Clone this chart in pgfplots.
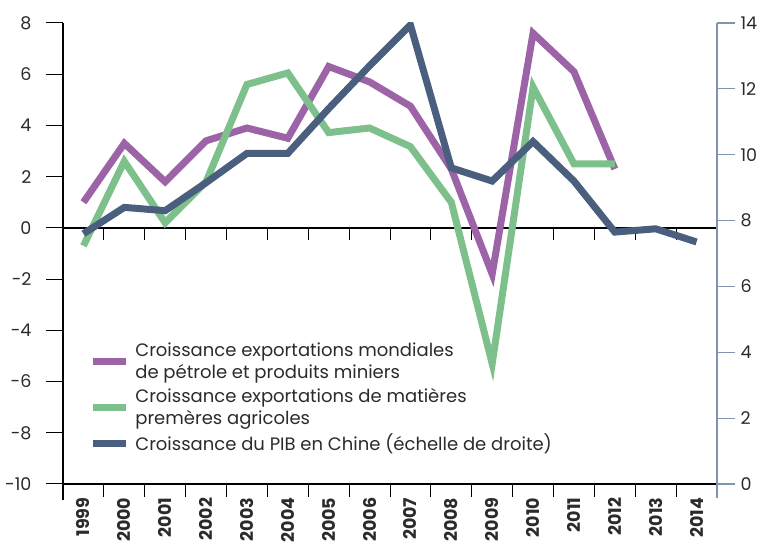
\documentclass[border=0pt]{standalone}
\usepackage{fontspec}
\setmainfont{Poppins}
\usepackage{pgfplots}
\pgfplotsset{compat=1.18}
\definecolor{cpurple}{HTML}{9C63A6}
\definecolor{cgreen}{HTML}{7DC08C}
\definecolor{cblue}{HTML}{4A5F7E}
\definecolor{caxis}{HTML}{8093AF}
\definecolor{ctext}{HTML}{2B2B2B}
\begin{document}
\begin{tikzpicture}[font=\fontsize{17.5}{21}\selectfont, text=ctext]
\path[use as bounding box, clip] (-63pt,-61pt) rectangle (697pt,484pt);
% zero line with its ticks
\begin{axis}[at={(0,256.11pt)}, anchor=south west, scale only axis,
  width=654pt, height=204.89pt,
  xmin=-0.5, xmax=15.5, ymin=0, ymax=8,
  axis x line*=bottom, axis y line=none,
  xtick={-0.5,0.5,...,15.5}, xticklabels={},
  tick align=outside, major tick length=12pt,
  x axis line style={line width=2.5pt, black},
  xtick style={line width=1pt, black}]
\end{axis}
% bottom axis with category labels
\begin{axis}[at={(0,0)}, anchor=south west, scale only axis,
  width=654pt, height=461pt,
  xmin=-0.5, xmax=15.5, ymin=-10, ymax=8,
  axis x line*=bottom, axis y line=none,
  x axis line style={line width=2.5pt, black},
  tick align=outside, major tick length=13pt,
  xtick style={line width=1pt, black},
  xtick={-0.5,0.5,...,15.5},
  xticklabels={1999,2000,2001,2002,2003,2004,2005,2006,2007,2008,2009,2010,2011,2012,2013,2014},
  x tick label as interval,
  xticklabel style={rotate=90, anchor=east, inner sep=0.5pt, font=\fontsize{17.5}{21}\selectfont\bfseries}]
\end{axis}
% left axis
\begin{axis}[at={(0,0)}, anchor=south west, scale only axis,
  width=654pt, height=461pt,
  xmin=-0.5, xmax=15.5, ymin=-10, ymax=8,
  axis x line=none, axis y line*=left,
  y axis line style={line width=2.5pt, black, shorten <=-16pt},
  tick align=outside, major tick length=17pt,
  ytick style={line width=1pt, black},
  ytick={-10,-8,...,8},
  /pgf/number format/assume math mode=true,
  yticklabel style={font=\fontsize{17.5}{21}\selectfont, xshift=-11pt},
  legend style={at={(0.04,0.31)}, anchor=north west, draw=none, fill=none, inner sep=0pt,
    font=\fontsize{18}{22}\selectfont, cells={align=left}, row sep=4pt, column sep=4pt},
  legend cell align=left,
  legend image code/.code={\draw[#1, line cap=butt] (0pt,0pt) -- (33pt,0pt);}
]
\addplot[cpurple, line width=7pt] coordinates {
(0,1.0) (1,3.3) (2,1.8) (3,3.4) (4,3.9) (5,3.5) (6,6.3) (7,5.7) (8,4.75)
(9,2.3) (10,-1.8) (11,7.6) (12,6.1) (13,2.3)};
\addlegendentry{Croissance exportations mondiales\\de pétrole et produits miniers}
\addplot[cgreen, line width=7pt] coordinates {
(0,-0.7) (1,2.6) (2,0.2) (3,1.8) (4,5.6) (5,6.05) (6,3.72) (7,3.9) (8,3.17)
(9,1.0) (10,-5.3) (11,5.5) (12,2.5) (13,2.5)};
\addlegendentry{Croissance exportations de matières\\premères agricoles}
\addlegendimage{cblue, line width=7pt}
\addlegendentry{Croissance du PIB en Chine (échelle de droite)}
\end{axis}
% right axis
\begin{axis}[at={(0,0)}, anchor=south west, scale only axis,
  width=654pt, height=461pt,
  xmin=-0.5, xmax=15.5, ymin=0, ymax=14,
  axis x line=none, axis y line*=right,
  y axis line style={line width=2.5pt, caxis, shorten <=-14pt},
  tick align=outside, major tick length=18pt,
  ytick style={line width=1.2pt, caxis},
  ytick={0,2,...,14},
  /pgf/number format/assume math mode=true,
  yticklabel style={font=\fontsize{17.5}{21}\selectfont, xshift=2pt}]
\addplot[cblue, line width=7pt] coordinates {
(0,7.6) (1,8.4) (2,8.3) (3,9.15) (4,10.04) (5,10.04) (6,11.4) (7,12.7) (8,13.94)
(9,9.6) (10,9.2) (11,10.4) (12,9.2) (13,7.65) (14,7.75) (15,7.35)};
\end{axis}
\end{tikzpicture}
\end{document}
